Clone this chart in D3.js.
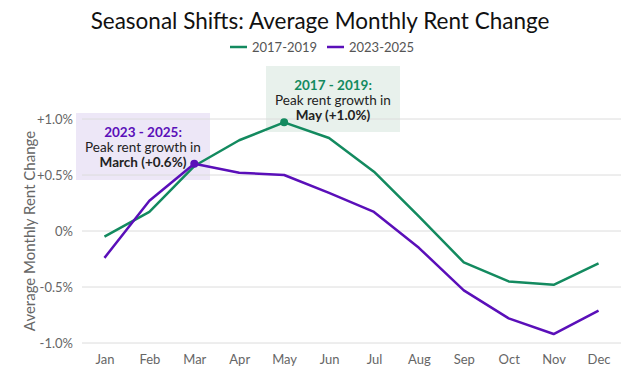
<!DOCTYPE html>
<html>
<head>
<meta charset="utf-8">
<script src="https://cdn.jsdelivr.net/npm/d3@7"></script>
<style>
  body { margin: 0; background: #fff; }
  svg { display: block; font-family: Lato, "Open Sans", sans-serif; }
</style>
</head>
<body>
<div id="chart"></div>
<script>
// data
var months = ['Jan', 'Feb', 'Mar', 'Apr', 'May', 'Jun', 'Jul', 'Aug', 'Sep', 'Oct', 'Nov', 'Dec'];
var series2017 = [-0.05, 0.17, 0.58, 0.81, 0.97, 0.83, 0.53, 0.13, -0.28, -0.45, -0.48, -0.29];
var series2023 = [-0.24, 0.27, 0.60, 0.52, 0.50, 0.34, 0.17, -0.15, -0.53, -0.78, -0.92, -0.71];
var yTicks = [-1.0, -0.5, 0, 0.5, 1.0];
var yTickLabels = ['-1.0%', '-0.5%', '0%', '+0.5%', '+1.0%'];
var seriesNames = ['2017-2019', '2023-2025'];

var attrs = {
  svgWidth: 626,
  svgHeight: 372,
  marginTop: 119,
  marginBottom: 29,
  marginLeft: 82,
  marginRight: 5,
  green: '#138a5f',
  purple: '#5a0fb9'
};

var calc = {};
calc.chartWidth = attrs.svgWidth - attrs.marginLeft - attrs.marginRight;
calc.chartHeight = attrs.svgHeight - attrs.marginTop - attrs.marginBottom;

var scales = {};
scales.x = d3.scalePoint().domain(months).range([0, calc.chartWidth]).padding(0.5);
scales.y = d3.scaleLinear().domain([-1, 1]).range([calc.chartHeight, 0]);

var svg = d3.select('#chart').append('svg')
  .attr('width', attrs.svgWidth)
  .attr('height', attrs.svgHeight);

// title
svg.append('text')
  .attr('x', 320).attr('y', 29)
  .attr('text-anchor', 'middle')
  .attr('font-size', 22.5)
  .attr('fill', '#111')
  .text('Seasonal Shifts: Average Monthly Rent Change');

// legend
var legend = svg.append('g').attr('transform', 'translate(230,47)');
var legendItems = [
  { name: seriesNames[0], color: attrs.green, x: 0 },
  { name: seriesNames[1], color: attrs.purple, x: 97 }
];
legendItems.forEach(function (d) {
  legend.append('line')
    .attr('x1', d.x).attr('x2', d.x + 17)
    .attr('y1', 0).attr('y2', 0)
    .attr('stroke', d.color).attr('stroke-width', 2.5);
  legend.append('text')
    .attr('x', d.x + 22).attr('y', 4.5)
    .attr('font-size', 13)
    .attr('fill', '#555')
    .text(d.name);
});

var chart = svg.append('g')
  .attr('transform', 'translate(' + attrs.marginLeft + ',' + attrs.marginTop + ')');

// annotation boxes (behind everything)
chart.append('rect')
  .attr('x', -6).attr('y', -6)
  .attr('width', 134).attr('height', 67)
  .attr('fill', '#ede7f7');
chart.append('rect')
  .attr('x', 184).attr('y', -53)
  .attr('width', 134).attr('height', 66)
  .attr('fill', '#e6f0ea')
  .attr('opacity', 0.9);

// grid
chart.append('g').selectAll('line').data(yTicks).enter().append('line')
  .attr('x1', 0).attr('x2', calc.chartWidth)
  .attr('y1', function (d) { return scales.y(d); })
  .attr('y2', function (d) { return scales.y(d); })
  .attr('stroke', '#dcdcdc').attr('stroke-width', 1);

// y axis labels
var axisLeft = d3.axisLeft(scales.y)
  .tickValues(yTicks)
  .tickFormat(function (d, i) { return yTickLabels[i]; })
  .tickSize(0).tickPadding(9);
var yAxisG = chart.append('g').call(axisLeft);
yAxisG.select('.domain').remove();
yAxisG.selectAll('text')
  .attr('font-family', 'Lato, sans-serif')
  .attr('font-size', 13)
  .attr('fill', '#666');

// x axis labels
var axisBottom = d3.axisBottom(scales.x).tickSize(0).tickPadding(12);
var xAxisG = chart.append('g')
  .attr('transform', 'translate(0,' + calc.chartHeight + ')')
  .call(axisBottom);
xAxisG.select('.domain').remove();
xAxisG.selectAll('text')
  .attr('font-family', 'Lato, sans-serif')
  .attr('font-size', 13)
  .attr('fill', '#666');

// y axis title
svg.append('text')
  .attr('transform', 'translate(35,' + (attrs.marginTop + calc.chartHeight / 2) + ') rotate(-90)')
  .attr('text-anchor', 'middle')
  .attr('font-size', 15)
  .attr('fill', '#666')
  .text('Average Monthly Rent Change');

// lines
var line = d3.line()
  .x(function (d, i) { return scales.x(months[i]); })
  .y(function (d) { return scales.y(d); });

chart.append('path').datum(series2017)
  .attr('d', line).attr('fill', 'none')
  .attr('stroke', attrs.green).attr('stroke-width', 2.5)
  .attr('stroke-linejoin', 'round');
chart.append('path').datum(series2023)
  .attr('d', line).attr('fill', 'none')
  .attr('stroke', attrs.purple).attr('stroke-width', 2.5)
  .attr('stroke-linejoin', 'round');

// peak dots
chart.append('circle')
  .attr('cx', scales.x('May')).attr('cy', scales.y(series2017[4]))
  .attr('r', 4).attr('fill', attrs.green);
chart.append('circle')
  .attr('cx', scales.x('Mar')).attr('cy', scales.y(series2023[2]))
  .attr('r', 4).attr('fill', attrs.purple);

// annotation text
function annot(x, y, head, color, line2, line3) {
  var t = chart.append('text')
    .attr('text-anchor', 'middle')
    .attr('font-size', 13.5);
  t.append('tspan').attr('x', x).attr('y', y)
    .attr('font-weight', 'bold').attr('fill', color).text(head);
  t.append('tspan').attr('x', x).attr('y', y + 15)
    .attr('fill', '#222').text(line2);
  t.append('tspan').attr('x', x).attr('y', y + 30)
    .attr('font-weight', 'bold').attr('fill', '#222').text(line3);
}
annot(61, 18, '2023 - 2025:', attrs.purple, 'Peak rent growth in', 'March (+0.6%)');
annot(251, -29, '2017 - 2019:', attrs.green, 'Peak rent growth in', 'May (+1.0%)');
</script>
</body>
</html>
